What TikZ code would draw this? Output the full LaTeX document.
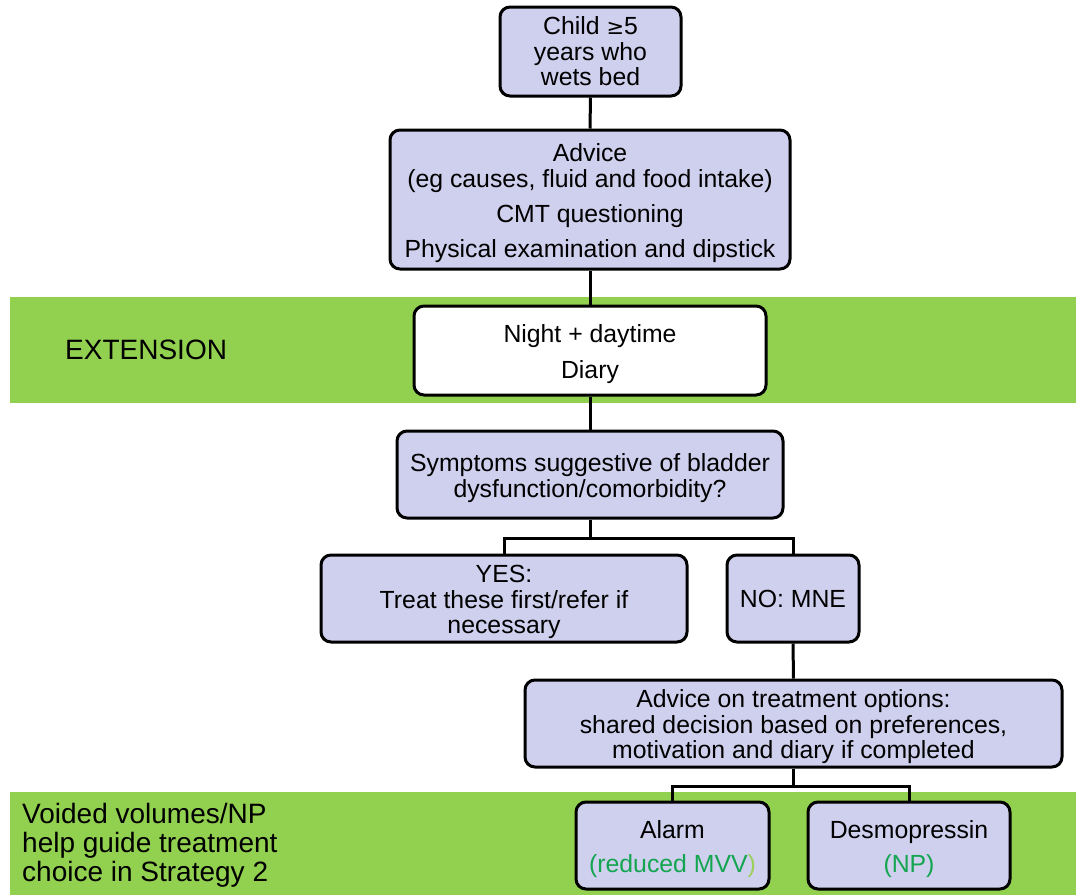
\documentclass[tikz,border=0pt]{standalone}
\usepackage{fontspec}
\setmainfont{Liberation Sans}
\newfontfamily\symfont{DejaVu Sans}
\definecolor{boxfill}{HTML}{CFCFEE}
\definecolor{band}{HTML}{92D050}
\definecolor{txtgreen}{HTML}{13A54F}
\definecolor{paren}{HTML}{9BD05A}
\newcommand{\topstrut}{\rule{0pt}{25pt}}
\begin{document}
\begin{tikzpicture}[x=1pt,y=-1pt,
  box/.style={draw=black,line width=3pt,rounded corners=10pt,fill=boxfill,align=center,inner sep=0pt,
    font=\fontsize{24.8}{25.5}\selectfont},
  wbox/.style={box,fill=white},
  conn/.style={line width=3pt},
  lbl/.style={font=\fontsize{28}{29}\selectfont,inner sep=0pt,align=left,anchor=west}]
\useasboundingbox (0,0) rectangle (1076,895);
% green bands
\fill[band] (10,297) rectangle (1076,403);
\fill[band] (10,792) rectangle (1076,895);
% nodes
\node[box,minimum width=181pt,minimum height=89pt] (child) at (590.5,51.5) {Child {\symfont\fontsize{21}{25.5}\selectfont≥}5\\years who\\wets bed};
\node[box,minimum width=400pt,minimum height=139pt] (adv) at (590,199.5) {\topstrut Advice\\(eg causes, fluid and food intake)\\[10pt]CMT questioning\\[9pt]Physical examination and dipstick};
\node[wbox,minimum width=352pt,minimum height=89pt] (diary) at (590,350.5) {\topstrut Night + daytime\\[10pt]Diary};
\node[box,minimum width=386pt,minimum height=87pt] (sym) at (590,474.5) {\topstrut Symptoms suggestive of bladder\\dysfunction/comorbidity?};
\node[box,minimum width=366pt,minimum height=87pt] (yes) at (504,598.5) {\topstrut YES:\\Treat these first/refer if\\necessary};
\node[box,minimum width=132pt,minimum height=87pt] (no) at (793,598.5) {NO: MNE};
\node[box,minimum width=537pt,minimum height=87pt] (opt) at (793.5,723.5) {\topstrut Advice on treatment options:\\shared decision based on preferences,\\motivation and diary if completed};
\node[box,minimum width=193pt,minimum height=87pt] (alarm) at (672.5,845.5) {\topstrut Alarm\\[9pt]{\color{txtgreen}(reduced MVV}{\color{paren})}};
\node[box,minimum width=202pt,minimum height=87pt] (desmo) at (909,845.5) {\topstrut Desmopressin\\[9pt]{\color{txtgreen}(NP)}};
% labels
\node[lbl] (ext) at (65,350) {EXTENSION};
\node[lbl] (vv) at (22,845) {Voided volumes/NP\\help guide treatment\\choice in Strategy 2};
% connectors
\draw[conn] (child.south) -- (adv.north);
\draw[conn] (adv.south) -- (diary.north);
\draw[conn] (diary.south) -- (sym.north);
\draw[conn] (sym.south) -- ++(0,19) coordinate (j1);
\draw[conn] (yes.north) |- (j1) -| (no.north);
\draw[conn] (no.south) -- (opt.north);
\draw[conn] (opt.south) -- ++(0,18) coordinate (j2);
\draw[conn] (alarm.north) |- (j2) -| (desmo.north);
\end{tikzpicture}
\end{document}
